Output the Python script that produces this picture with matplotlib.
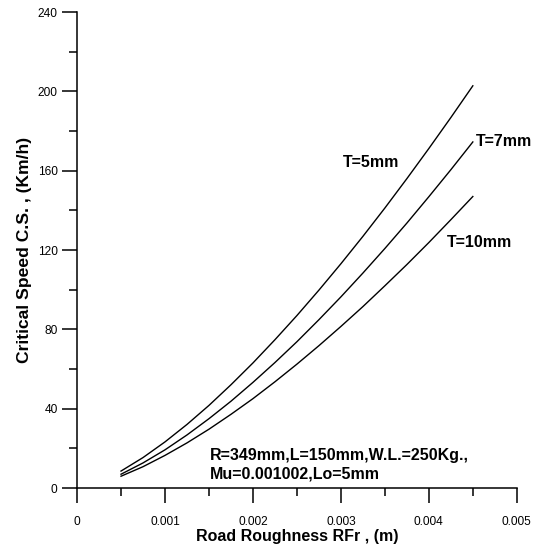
import matplotlib
matplotlib.use('Agg')
import matplotlib.pyplot as plt
from matplotlib.ticker import MultipleLocator

plt.rcParams['font.family'] = ['Liberation Sans', 'DejaVu Sans']

# road roughness (m) and critical speed (km/h) for three tyre thicknesses
rfr = [0.0005, 0.00075, 0.0010, 0.00125, 0.0015, 0.00175, 0.0020, 0.00225,
       0.0025, 0.00275, 0.0030, 0.00325, 0.0035, 0.00375, 0.0040, 0.00425,
       0.0045]
cs_t5 = [8.6, 15.4, 23.3, 32.1, 41.7, 52.1, 63.1, 74.8, 87.0, 99.8, 113.1,
         126.9, 141.2, 156.0, 171.2, 186.8, 202.8]
cs_t7 = [7.0, 12.7, 19.3, 26.8, 35.0, 43.8, 53.3, 63.3, 73.8, 84.9, 96.4,
         108.4, 120.8, 133.6, 146.9, 160.5, 174.5]
cs_t10 = [6.0, 10.8, 16.5, 22.8, 29.7, 37.2, 45.1, 53.6, 62.5, 71.8, 81.5,
          91.5, 102.0, 112.7, 123.8, 135.3, 147.0]

x_ticks = [0, 0.001, 0.002, 0.003, 0.004, 0.005]
x_ticklabels = ['0', '0.001', '0.002', '0.003', '0.004', '0.005']
y_ticks = [0, 40, 80, 120, 160, 200, 240]

fig = plt.figure(figsize=(5.35, 5.46), dpi=100)
ax = fig.add_axes([0.144, 0.106, 0.822, 0.872])

ax.plot(rfr, cs_t5, color='black', lw=1.0)
ax.plot(rfr, cs_t7, color='black', lw=1.0)
ax.plot(rfr, cs_t10, color='black', lw=1.0)

ax.text(0.00302, 164, 'T=5mm', fontsize=11.5, fontweight='bold', va='center')
ax.text(0.00453, 174.5, 'T=7mm', fontsize=11.5, fontweight='bold', va='center')
ax.text(0.00420, 124, 'T=10mm', fontsize=11.5, fontweight='bold', va='center')
ax.text(0.00151, 16.5, 'R=349mm,L=150mm,W.L.=250Kg.,', fontsize=11.5,
        fontweight='bold', va='center')
ax.text(0.00151, 7, 'Mu=0.001002,Lo=5mm', fontsize=11.5,
        fontweight='bold', va='center')

ax.set_xlim(0, 0.005)
ax.set_ylim(0, 240)
ax.set_xticks(x_ticks)
ax.set_xticklabels(x_ticklabels)
ax.set_yticks(y_ticks)
ax.xaxis.set_minor_locator(MultipleLocator(0.0005))
ax.yaxis.set_minor_locator(MultipleLocator(20))

for side in ['top', 'right']:
    ax.spines[side].set_visible(False)
for side in ['left', 'bottom']:
    ax.spines[side].set_linewidth(1.1)

ax.tick_params(which='major', direction='out', length=11, width=1.1,
               labelsize=8.6, colors='black')
ax.tick_params(which='minor', direction='out', length=6, width=1.1)
ax.tick_params(axis='x', which='major', pad=9)
ax.tick_params(axis='y', which='major', pad=3)

ax.set_xlabel('Road Roughness RFr , (m)', fontsize=11.5, fontweight='bold',
              labelpad=1)
ax.set_ylabel('Critical Speed C.S. , (Km/h)', fontsize=12.6, fontweight='bold',
              labelpad=4)

fig.savefig('out.png', dpi=100)
